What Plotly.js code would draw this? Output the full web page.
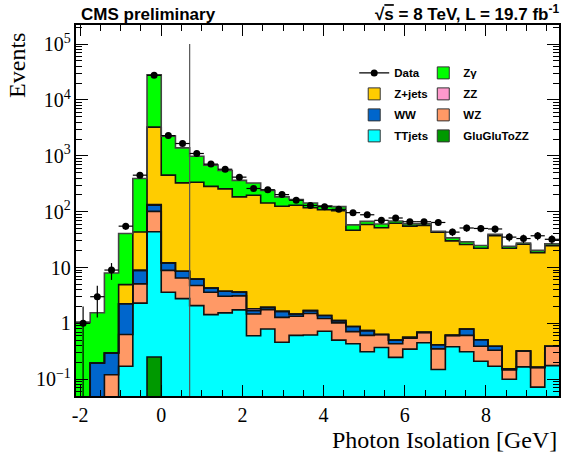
<!DOCTYPE html>
<html><head><meta charset="utf-8">
<script src="https://cdn.plot.ly/plotly-3.0.1.min.js"></script>
<style>html,body{margin:0;padding:0;background:#fff}#chart{width:563px;height:460px}</style>
</head><body><div id="chart"></div>
<script>
// Bin centres (photon isolation, GeV), bin width 0.35 GeV
const binCenters = [-1.925, -1.575, -1.225, -0.875, -0.525, -0.175, 0.175, 0.525, 0.875, 1.225,
  1.575, 1.925, 2.275, 2.625, 2.975, 3.325, 3.675, 4.025, 4.375, 4.725,
  5.075, 5.425, 5.775, 6.125, 6.475, 6.825, 7.175, 7.525, 7.875, 8.225,
  8.575, 8.925, 9.275, 9.625];
const binWidth = 0.35;

const dataEvents = [1, 3, 9, 55, 450, 27600, 2300, 1660, 1100, 710,
  575, 415, 260, 247, 202, 160, 129, 123, 110, 96,
  88, 70, 77, 66, 66, 64, 43, 51, 50, 49,
  35, 33, 37, 32];

const zgamma = [1.05, 1.35, 7.7, 35.7, 348, 25040, 1800, 1057, 643, 397,
  289, 180, 129, 97, 59, 35, 25, 19, 19, 11.6,
  8.2, 8.5, 6, 5.4, 4, 1.8, 3.9, 3, 2.6, 2.1,
  1.9, 1.5, 1.8, 1.8];
const zjets = [0, 0, 0, 2.69, 34.4, 3126, 438, 319, 331, 279,
  252, 180, 195, 141, 123.4, 128.5, 116, 106.6, 103, 45.5,
  58, 50.9, 61.5, 54.4, 55.7, 42.4, 29.4, 25, 21.6, 36.9,
  21.9, 25.7, 18.3, 24.3];
const zz = [0, 0, 0, 0, 0, 4, 0, 0, 0, 0,
  0, 0, 0.14, 0, 0, 0, 0, 0, 0, 0,
  0, 0, 0, 0, 0, 0, 0, 0, 0, 0,
  0, 0, 0, 0];
const ww = [0, 0.195, 0.175, 1.62, 3.8, 29, 3.2, 2.06, 1.45, 0.7,
  0.7, 0.55, 0.22, 0.17, 0.36, 0.13, 0.19, 0.16, 0.1, 0.17,
  0.13, 0, 0.07, 0.02, 0, 0.065, 0, 0.18, 0.12, 0.06,
  0.007, 0, 0, 0];
const wz = [0, 0, 0.12, 0.46, 2.8, 57.4, 5.3, 3.73, 2.67, 2.17,
  1.51, 1.36, 0.87, 0.97, 0.82, 0.73, 0.88, 0.5, 0.52, 0.28,
  0.3, 0.26, 0.184, 0.195, 0.24, 0.2, 0.23, 0.3, 0.18, 0.16,
  0.047, 0.154, 0.091, 0.215];
const ttjets = [0, 0, 0, 0.17, 2.3, 43.35, 3.6, 2.77, 2.08, 1.43,
  1.54, 1.74, 0.6, 0.79, 0.46, 0.61, 0.62, 0.72, 0.5, 0.43,
  0.31, 0.37, 0.246, 0.345, 0.45, 0.149, 0.38, 0.31, 0.21, 0.17,
  0.1, 0.166, 0.072, 0.175];
const ggzz = [0, 0, 0, 0, 0, 0.25, 0, 0, 0, 0,
  0, 0, 0, 0, 0, 0, 0, 0, 0, 0,
  0, 0, 0, 0, 0, 0, 0, 0, 0, 0,
  0, 0, 0, 0];

const isolationCut = 0.7;
const cutLineTop = 1e5;
const xTickVals = [-2, 0, 2, 4, 6, 8];
const xTickText = ['-2', '0', '2', '4', '6', '8'];

// stack from bottom to top
const components = [
  {name: 'GluGluToZZ', y: ggzz, color: '#009900', edge: '#111'},
  {name: 'TTjets', y: ttjets, color: '#00ffff', edge: '#111'},
  {name: 'WZ', y: wz, color: '#ff9966', edge: '#111'},
  {name: 'WW', y: ww, color: '#0066cc', edge: '#111'},
  {name: 'ZZ', y: zz, color: '#ff99cc', edge: '#111'},
  {name: 'Z+jets', y: zjets, color: '#ffcc00', edge: '#111'},
  {name: 'Zγ', y: zgamma, color: '#00ff00', edge: '#444'}
];
const byName = {};
components.forEach(c => byName[c.name] = c);

const edges = binCenters.map(c => c - binWidth / 2)
  .concat([binCenters[binCenters.length - 1] + binWidth / 2]);

const traces = [];
const steps = [];
let cum = binCenters.map(() => 0);
components.forEach(c => {
  traces.push({
    type: 'bar', x: binCenters, y: c.y, width: binWidth, name: c.name,
    marker: {color: c.color, line: {width: 0}}, showlegend: false, hoverinfo: 'skip'
  });
  cum = cum.map((v, i) => v + c.y[i]);
  const ys = cum.map(v => v > 0 ? v : 1e-4);
  steps.push({
    type: 'scatter', mode: 'lines', x: edges, y: ys.concat([ys[ys.length - 1]]),
    line: {shape: 'hv', color: c.edge, width: 1.6}, showlegend: false, hoverinfo: 'skip'
  });
});
steps.forEach(s => traces.push(s));

// isolation cut line
traces.push({
  type: 'scatter', mode: 'lines', x: [isolationCut, isolationCut], y: [cutLineTop, 1e-4],
  line: {color: '#555', width: 1.2}, showlegend: false, hoverinfo: 'skip'
});

// data
traces.push({
  type: 'scatter', mode: 'markers', x: binCenters, y: dataEvents, name: 'Data',
  marker: {color: '#000', size: 7},
  error_y: {type: 'data', array: dataEvents.map(v => Math.sqrt(v)), color: '#000', thickness: 1.2, width: 0},
  error_x: {type: 'constant', value: binWidth / 2, color: '#000', thickness: 1.2, width: 0},
  showlegend: false
});

// legend entries (two columns)
const col1 = ['Data', 'Z+jets', 'WW', 'TTjets'];
const col2 = ['Zγ', 'ZZ', 'WZ', 'GluGluToZZ'];
function legendEntry(name, legendId) {
  if (name === 'Data') {
    return {type: 'scatter', mode: 'lines+markers', x: [null], y: [null], name: name,
      legend: legendId, legendgroup: name, marker: {color: '#000', size: 7},
      line: {color: '#000', width: 1.2}};
  }
  const c = byName[name];
  return {type: 'bar', x: [null], y: [null], name: name, legend: legendId, legendgroup: name,
    marker: {color: c.color, line: {color: '#333', width: 1}}};
}
col1.forEach(n => traces.push(legendEntry(n, 'legend')));
col2.forEach(n => traces.push(legendEntry(n, 'legend2')));

const legendFont = {family: 'Liberation Sans, Arial, sans-serif', size: 11.5, color: '#000', weight: 'bold'};
const layout = {
  width: 563, height: 460,
  margin: {l: 76, r: 4, t: 25, b: 64},
  paper_bgcolor: '#fff', plot_bgcolor: '#fff',
  barmode: 'stack', bargap: 0,
  showlegend: true,
  font: {family: 'Liberation Serif, Times New Roman, serif', color: '#000'},
  xaxis: {
    range: [-2.1, 9.8], tickmode: 'array', tickvals: xTickVals, ticktext: xTickText,
    ticks: 'inside', ticklen: 11, tickwidth: 1, tickcolor: '#000',
    showline: true, linewidth: 2, linecolor: '#000', mirror: 'ticks',
    showgrid: false, zeroline: false,
    tickfont: {size: 20, family: 'Liberation Serif, serif', color: '#000'},
    minor: {tickmode: 'linear', tick0: 0, dtick: 0.5, ticks: 'inside', ticklen: 6, tickcolor: '#000', showgrid: false}
  },
  yaxis: {
    type: 'log', range: [Math.log10(0.05), Math.log10(2.2e5)], dtick: 1, exponentformat: 'power',
    ticks: 'inside', ticklen: 12, tickwidth: 1, tickcolor: '#000',
    showline: true, linewidth: 2, linecolor: '#000', mirror: 'ticks',
    showgrid: false, zeroline: false,
    tickfont: {size: 16, family: 'Liberation Serif, serif', color: '#000'},
    minor: {dtick: 'D1', ticks: 'inside', ticklen: 6, tickcolor: '#000', showgrid: false}
  },
  legend: {x: 0.576, y: 0.91, xanchor: 'left', yanchor: 'top', bgcolor: 'rgba(0,0,0,0)',
    font: legendFont, traceorder: 'grouped', tracegroupgap: 2},
  legend2: {x: 0.719, y: 0.91, xanchor: 'left', yanchor: 'top', bgcolor: 'rgba(0,0,0,0)',
    font: legendFont, traceorder: 'grouped', tracegroupgap: 2},
  annotations: [
    {text: '<b>CMS preliminary</b>', xref: 'paper', yref: 'paper', x: 0, y: 1, xanchor: 'left', yanchor: 'bottom',
      xshift: 3, yshift: -1, showarrow: false, font: {family: 'Liberation Sans, Arial, sans-serif', size: 17, color: '#000'}},
    {text: '<b>√<span style="text-decoration:overline">s</span> = 8 TeV, L = 19.7 fb<sup>-1</sup></b>', xref: 'paper', yref: 'paper', x: 1, y: 1,
      xanchor: 'right', yanchor: 'bottom', xshift: 2, yshift: -1, showarrow: false,
      font: {family: 'Liberation Sans, Arial, sans-serif', size: 17, color: '#000'}},
    {text: 'Events', xref: 'paper', yref: 'paper', x: -0.122, y: 0.89, xanchor: 'center', yanchor: 'middle',
      textangle: -90, showarrow: false, font: {family: 'Liberation Serif, serif', size: 24, color: '#000'}},
    {text: 'Photon Isolation [GeV]', xref: 'paper', yref: 'paper', x: 1, y: -0.118, xanchor: 'right', yanchor: 'middle',
      showarrow: false, font: {family: 'Liberation Serif, serif', size: 24, color: '#000'}}
  ]
};

Plotly.newPlot('chart', traces, layout, {displayModeBar: false, staticPlot: true});
</script>
</body></html>
